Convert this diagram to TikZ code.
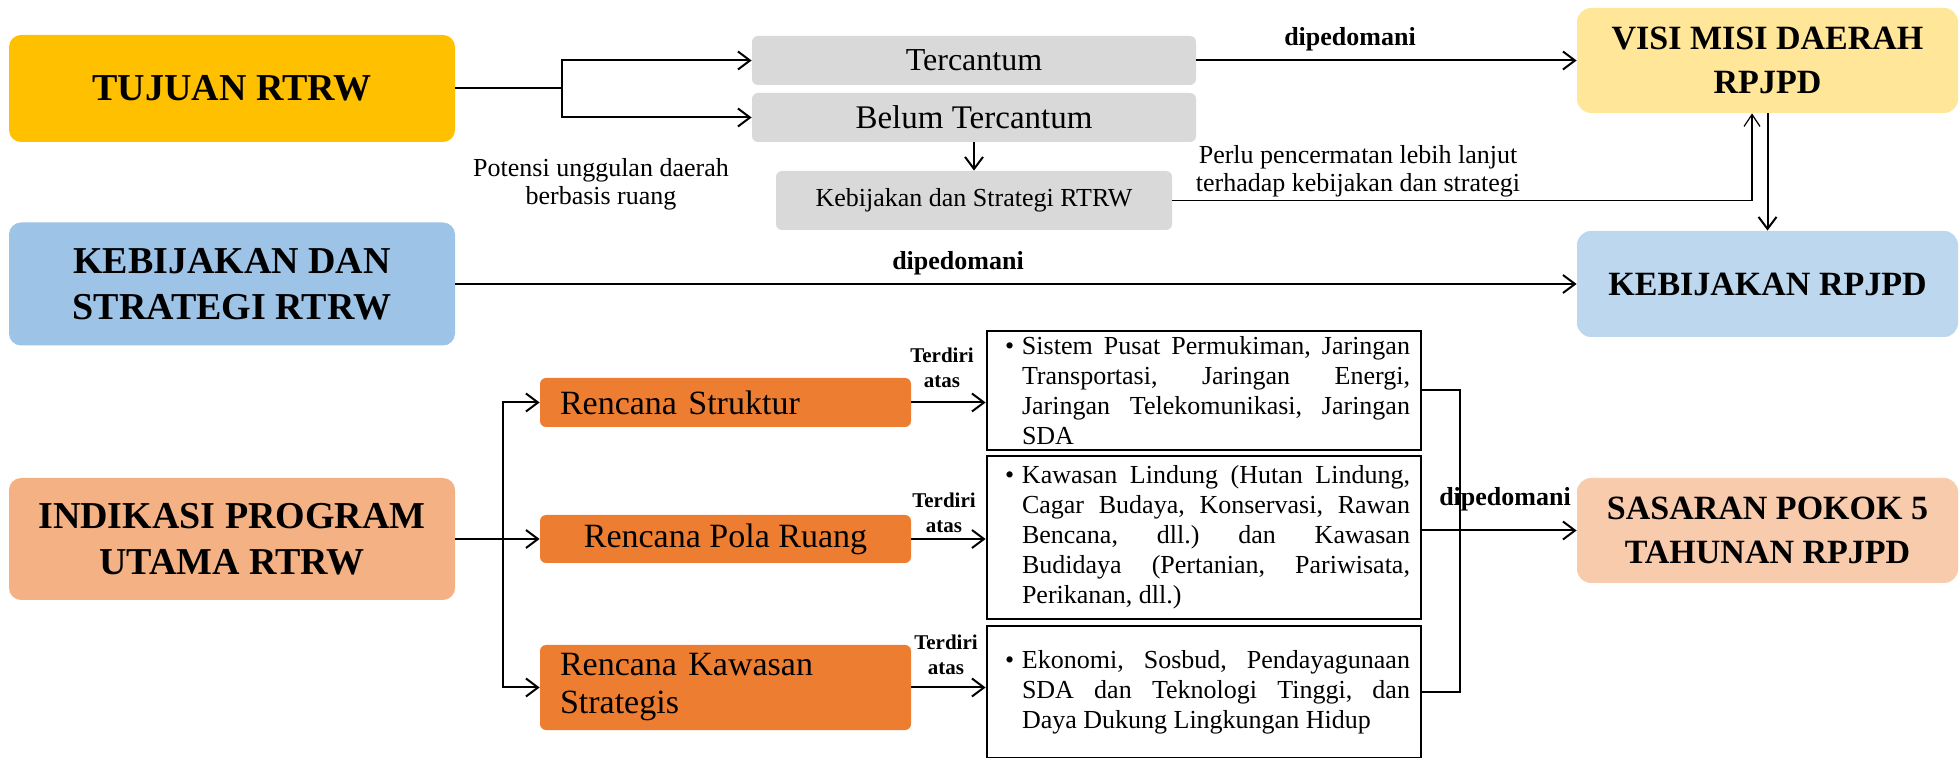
\documentclass[tikz,border=0pt]{standalone}
\usepackage{fontspec}
\setmainfont{Liberation Serif}
\usetikzlibrary{arrows.meta}
\definecolor{cTujuan}{HTML}{FFC000}
\definecolor{cKds}{HTML}{9DC3E6}
\definecolor{cIndikasi}{HTML}{F4B183}
\definecolor{cGray}{HTML}{D9D9D9}
\definecolor{cVisi}{HTML}{FFE699}
\definecolor{cKeb}{HTML}{BDD7EE}
\definecolor{cSasaran}{HTML}{F8CBAD}
\definecolor{cOrange}{HTML}{ED7D31}
\newcommand\bullettext[1]{\frenchspacing\spaceskip=0pt\xspaceskip=0pt\leftskip=17.5pt\rightskip=5.5pt\parfillskip=0pt plus 1fil\hyphenpenalty=10000\exhyphenpenalty=10000\tolerance=9999\noindent\hbox to 0pt{\hss\makebox[8.5pt][l]{\textbullet}}#1\par}
\tikzset{
  bigbox/.style={rounded corners=6pt, minimum width=223pt, align=center, inner sep=0pt,
    font=\fontsize{19}{23}\selectfont\bfseries},
  rbox/.style={rounded corners=7pt, minimum width=190.5pt, minimum height=52.5pt, align=center, inner sep=0pt,
    font=\fontsize{17}{22}\selectfont\bfseries},
  gbox/.style={fill=cGray, rounded corners=3pt, inner sep=0pt},
  rplan/.style={fill=cOrange, rounded corners=3pt, minimum width=185.5pt, inner sep=0pt,
    font=\fontsize{17}{19}\selectfont},
  wbox/.style={draw, line width=1.4pt, minimum width=217pt, text width=217pt, inner sep=0pt,
    font=\fontsize{13}{15}\selectfont},
  lbl/.style={font=\fontsize{13}{14}\selectfont, align=center, inner sep=0pt},
  dlbl/.style={font=\fontsize{13}{15}\selectfont\bfseries, inner sep=0pt},
  tlbl/.style={font=\fontsize{10.5}{12.5}\selectfont\bfseries, align=center, inner sep=0pt},
  conn/.style={line width=1pt},
  arr/.style={conn, -{Straight Barb[length=6pt,width=9pt]}},
  thinarr/.style={line width=0.6pt, -{Straight Barb[length=6pt,width=8pt]}},
}
\begin{document}
\begin{tikzpicture}[x=0.5pt, y=-0.5pt]
\useasboundingbox (0,0) rectangle (1960,758);

% left big boxes
\node[bigbox, fill=cTujuan, minimum height=53.5pt] (tujuan) at (232,88.5) {TUJUAN RTRW};
\node[bigbox, fill=cKds, minimum height=61.5pt] (kds) at (232,284) {KEBIJAKAN DAN\\STRATEGI RTRW};
\node[bigbox, fill=cIndikasi, minimum height=61pt] (indikasi) at (232,539) {INDIKASI PROGRAM\\UTAMA RTRW};

% gray boxes
\node[gbox, minimum width=222pt, minimum height=24.5pt, font=\fontsize{16}{18}\selectfont] (tercantum) at (974,60.5) {Tercantum};
\node[gbox, minimum width=222pt, minimum height=24.5pt, font=\fontsize{16.5}{18}\selectfont] (belum) at (974,117.5) {Belum Tercantum};
\node[gbox, minimum width=198pt, minimum height=29.5pt, font=\fontsize{13}{15}\selectfont] (kdsmall) at (974,200.5) {Kebijakan dan Strategi RTRW};

% right boxes
\node[rbox, fill=cVisi] (visi) at (1767.5,60.5) {VISI MISI DAERAH\\RPJPD};
\node[rbox, fill=cKeb, minimum height=53pt] (kebrpjpd) at (1767.5,284) {KEBIJAKAN RPJPD};
\node[rbox, fill=cSasaran] (sasaran) at (1767.5,530.5) {SASARAN POKOK 5\\TAHUNAN RPJPD};

% rencana boxes
\node[rplan, minimum height=24.5pt, text width=165.5pt, align=left, inner xsep=10pt] (rstruktur) at (725.5,402.5) {Rencana Struktur};
\node[rplan, minimum height=24pt] (rpola) at (725.5,539) {Rencana Pola Ruang};
\node[rplan, minimum height=42.5pt, text width=165.5pt, align=left, inner xsep=10pt] (rkawasan) at (725.5,687.5) {Rencana Kawasan\\Strategis};

% white boxes
\node[wbox, minimum height=59.5pt] (box1) at (1204,390.5) {\bullettext{Sistem Pusat Permukiman, Jaringan\linebreak Transportasi, Jaringan Energi,\linebreak Jaringan Telekomunikasi, Jaringan\linebreak SDA}};
\node[wbox, minimum height=81.5pt] (box2) at (1204,537.5) {\bullettext{Kawasan Lindung (Hutan Lindung,\linebreak Cagar Budaya, Konservasi, Rawan\linebreak Bencana, dll.) dan Kawasan\linebreak Budidaya (Pertanian, Pariwisata,\linebreak Perikanan, dll.)}};
\node[wbox, minimum height=66pt] (box3) at (1204,692) {\bullettext{Ekonomi, Sosbud, Pendayagunaan\linebreak SDA dan Teknologi Tinggi, dan\linebreak Daya Dukung Lingkungan Hidup}};

% labels
\node[lbl] (potensi) at (601,184) {Potensi unggulan daerah\\berbasis ruang};
\node[lbl] (perlu) at (1358,171) {Perlu pencermatan lebih lanjut\\terhadap kebijakan dan strategi};
\node[dlbl] (dip1) at (1350,39) {dipedomani};
\node[dlbl] (dip2) at (958,263) {dipedomani};
\node[dlbl] (dip3) at (1505,499) {dipedomani};
\node[tlbl] (ter1) at (942,368) {Terdiri\\atas};
\node[tlbl] (ter2) at (944,513) {Terdiri\\atas};
\node[tlbl] (ter3) at (946,655) {Terdiri\\atas};

% connectors top
\coordinate (j1) at (562,88.5);
\draw[conn] (tujuan.east) -- (j1);
\draw[arr] (j1) |- (tercantum.west);
\draw[arr] (j1) |- (belum.west);
\draw[arr] (belum.south) -- (kdsmall.north);
\draw[arr] (tercantum.east) -- (visi.west);
\draw[thinarr] (kdsmall.east) -| ([xshift=-7.75pt]visi.south);
\draw[arr] (visi.south) -- (kebrpjpd.north);
\draw[arr] (kds.east) -- (kebrpjpd.west);

% connectors bottom
\coordinate (t) at (503,539);
\draw[arr] (indikasi.east) -- (rpola.west);
\draw[arr] (t) |- (rstruktur.west);
\draw[arr] (t) |- (rkawasan.west);
\draw[arr] (rstruktur.east) -- (rstruktur.east -| box1.west);
\draw[arr] (rpola.east) -- (rpola.east -| box2.west);
\draw[arr] (rkawasan.east) -- (rkawasan.east -| box3.west);
\coordinate (bx) at (1460,0);
\draw[conn] (box1.east) -- (box1.east -| bx) -- (box3.east -| bx) -- (box3.east);
\draw[arr] (box2.east |- sasaran.west) -- (sasaran.west);
\end{tikzpicture}
\end{document}
